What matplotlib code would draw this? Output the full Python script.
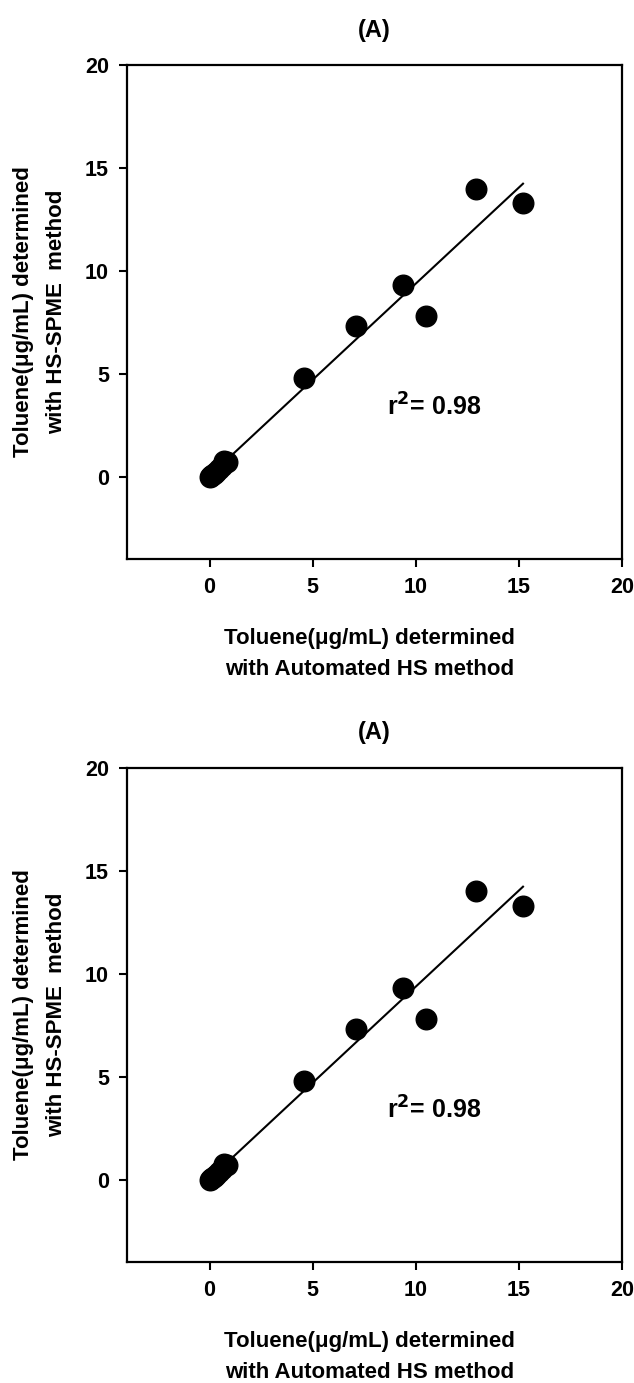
import numpy as np
import matplotlib
matplotlib.use("Agg")
import matplotlib.pyplot as plt

plt.rcParams['font.family'] = ['Liberation Sans', 'DejaVu Sans']
plt.rcParams['font.weight'] = 'bold'

# 数据：自动顶空法 (x) 与 HS-SPME 法 (y) 测得的甲苯浓度 (µg/mL)
auto_hs = [0.0, 0.05, 0.1, 0.2, 0.3, 0.45, 0.6, 0.7, 0.85, 4.6, 7.1, 9.4, 10.5, 12.9, 15.2]
hs_spme = [0.0, 0.05, 0.1, 0.15, 0.25, 0.35, 0.5, 0.75, 0.7, 4.8, 7.3, 9.3, 7.8, 14.0, 13.3]
r2_label = "r$^\\mathbf{2}$= 0.98"
panel_title = "(A)"
x_label = "Toluene(\u03bcg/mL) determined\nwith Automated HS method"
y_label = "Toluene(\u03bcg/mL) determined\nwith HS-SPME  method"
ticks = [0, 5, 10, 15, 20]

# 线性回归
slope, intercept = np.polyfit(auto_hs, hs_spme, 1)
fit_x = np.array([min(auto_hs), max(auto_hs)])
fit_y = slope * fit_x + intercept

W, H = 634, 1383
fig = plt.figure(figsize=(W / 100, H / 100), dpi=100)

for top in (65, 768):
    ax = fig.add_axes([127 / W, 1 - (top + 494) / H, 495 / W, 494 / H])
    ax.scatter(auto_hs, hs_spme, s=220, color='black', zorder=3)
    ax.plot(fit_x, fit_y, color='black', lw=1.5, zorder=2)
    ax.set_xlim(-4, 20)
    ax.set_ylim(-4, 20)
    ax.set_xticks(ticks)
    ax.set_yticks(ticks)
    ax.tick_params(direction='out', length=6, width=1.5, labelsize=15.5, pad=7)
    for lab in ax.get_xticklabels() + ax.get_yticklabels():
        lab.set_fontweight('bold')
    for sp in ax.spines.values():
        sp.set_linewidth(1.6)
    ax.text(10.9, 3.4, r2_label, fontsize=18, fontweight='bold', ha='center', va='center')
    ax.text(0.5, 1 + 35 / 494, panel_title, transform=ax.transAxes,
            fontsize=17, fontweight='bold', ha='center', va='center')
    ax.set_xlabel(x_label, fontsize=16, fontweight='bold', linespacing=1.6)
    ax.xaxis.set_label_coords(0.49, (558 - 653) / 494)
    ax.xaxis.label.set_va('center')
    ax.set_ylabel(y_label, fontsize=16, fontweight='bold', linespacing=1.8)
    ax.yaxis.set_label_coords((40 - 127) / 495, 0.5)
    ax.yaxis.label.set_va('center')

fig.savefig("out.png", dpi=100)
